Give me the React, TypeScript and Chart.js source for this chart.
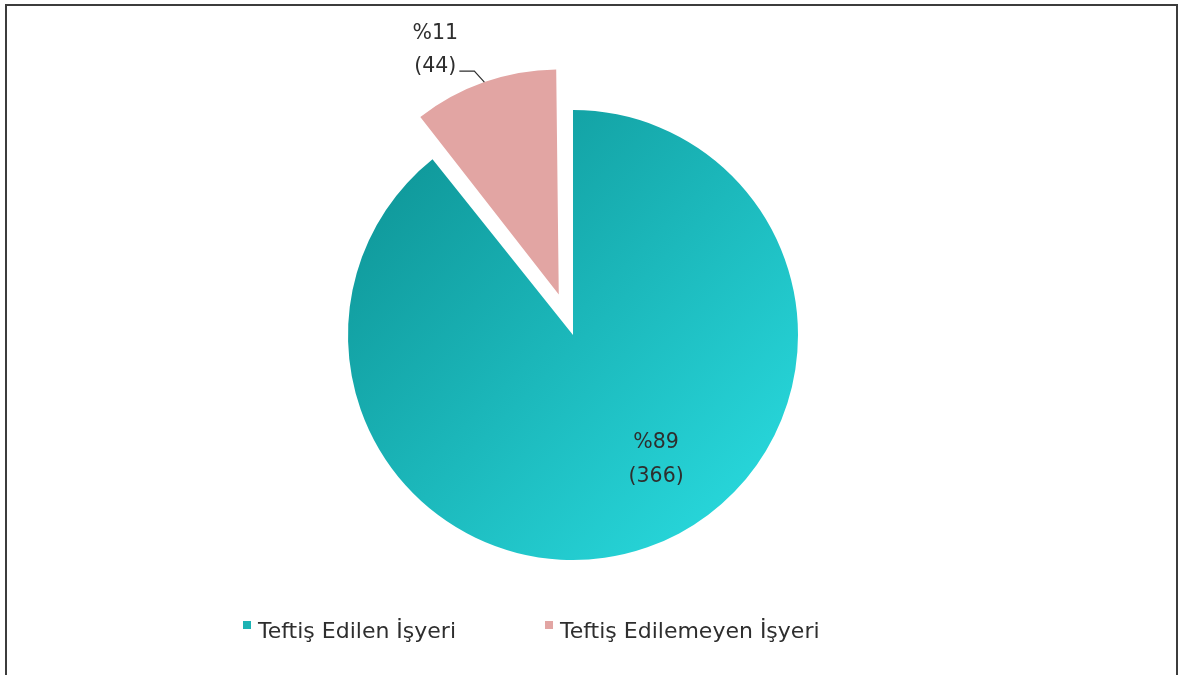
import React, { useEffect, useRef } from "react";
import { Chart, registerables } from "chart.js";

Chart.register(...registerables);

const categories = ["Teftiş Edilen İşyeri", "Teftiş Edilemeyen İşyeri"];
const counts = [366, 44];
const percents = [89, 11];
const explodeOffsets = [0, 43];

const FONT = "'DejaVu Sans', 'Open Sans', sans-serif";
const TEXT = "#2e2e2e";
const PINK = "#e2a5a3";
const TEAL_DARK = "#0f9799";
const TEAL_LIGHT = "#28d8dc";
const TEAL_MARK = "#1cb3b4";
const PIE_RADIUS = 225;

export default function App() {
  const ref = useRef<HTMLCanvasElement>(null);

  useEffect(() => {
    const canvas = ref.current!;

    // Chart.js translates an arc by offset/4 and grows its radius by a fraction of that;
    // keep exploded slices at the same radius as the others.
    const radiusFix = {
      id: "radiusFix",
      beforeDatasetsDraw(chart: any) {
        const meta = chart.getDatasetMeta(0);
        const R = meta.controller.outerRadius;
        meta.data.forEach((arc: any) => {
          const off = (arc.options.offset || 0) / 4;
          const circ = arc.circumference;
          const fix = 1 - Math.sin(Math.min(Math.PI, circ || 0));
          arc.outerRadius = R - off * fix;
        });
      },
    };

    const labelPlugin = {
      id: "sliceLabels",
      afterDatasetsDraw(chart: any) {
        const ctx = chart.ctx;
        const meta = chart.getDatasetMeta(0);
        const R = meta.controller.outerRadius;
        ctx.save();
        ctx.fillStyle = TEXT;
        ctx.font = `20.5px ${FONT}`;
        ctx.textAlign = "center";
        ctx.textBaseline = "middle";
        meta.data.forEach((arc: any, i: number) => {
          const p = arc.getProps(["x", "y", "startAngle", "endAngle"], true);
          const off = (arc.options.offset || 0) / 4;
          const mid = (p.startAngle + p.endAngle) / 2;
          const l1 = "%" + percents[i];
          const l2 = "(" + counts[i] + ")";
          if (off === 0) {
            const a = mid - 0.257;
            const d = R * 0.66;
            const cx = p.x + Math.cos(a) * d;
            const cy = p.y + Math.sin(a) * d;
            ctx.fillText(l1, cx, cy - 15);
            ctx.fillText(l2, cx, cy + 19);
          } else {
            const ox = p.x + Math.cos(mid) * (R + off);
            const oy = p.y + Math.sin(mid) * (R + off);
            const kx = ox - 10;
            const ky = oy - 11;
            const ex = kx - 15;
            ctx.strokeStyle = TEXT;
            ctx.lineWidth = 1.2;
            ctx.beginPath();
            ctx.moveTo(ox, oy);
            ctx.lineTo(kx, ky);
            ctx.lineTo(ex, ky);
            ctx.stroke();
            const w = ctx.measureText(l2).width;
            const cx = ex - 3 - w / 2;
            ctx.fillText(l2, cx, ky - 4);
            ctx.fillText(l1, cx, ky - 37);
          }
        });
        ctx.restore();
      },
    };

    const legendPlugin = {
      id: "customLegend",
      afterDraw(chart: any) {
        const ctx = chart.ctx;
        const ds = chart.data.datasets[0];
        ctx.save();
        ctx.font = `22px ${FONT}`;
        ctx.textBaseline = "middle";
        ctx.textAlign = "left";
        let x = 243;
        const y = 632;
        chart.data.labels.forEach((lab: string, i: number) => {
          ctx.fillStyle = ds.legendColors[i];
          ctx.fillRect(x, y - 11, 8, 8);
          ctx.fillStyle = TEXT;
          ctx.fillText(lab, x + 15, y);
          x += 15 + ctx.measureText(lab).width + 89;
        });
        ctx.restore();
      },
    };

    const chart = new Chart(canvas, {
      type: "pie",
      data: {
        labels: categories,
        datasets: [
          {
            data: counts,
            legendColors: [TEAL_MARK, PINK],
            backgroundColor: (c: any) => {
              if (c.dataIndex === 1) return PINK;
              const ch = c.chart;
              const area = ch.chartArea;
              if (!area) return TEAL_MARK;
              const cx = (area.left + area.right) / 2;
              const cy = (area.top + area.bottom) / 2;
              const g = ch.ctx.createLinearGradient(
                cx - PIE_RADIUS * 0.8,
                cy - PIE_RADIUS * 0.8,
                cx + PIE_RADIUS * 0.8,
                cy + PIE_RADIUS * 0.8
              );
              g.addColorStop(0, TEAL_DARK);
              g.addColorStop(1, TEAL_LIGHT);
              return g;
            },
            borderWidth: 0,
            offset: explodeOffsets.map((v) => v * 4),
          } as any,
        ],
      },
      options: {
        responsive: false,
        maintainAspectRatio: false,
        animation: false,
        radius: PIE_RADIUS,
        layout: { padding: { left: 0, right: 34, top: 0, bottom: 5 } },
        plugins: {
          legend: { display: false },
          tooltip: { enabled: false },
        },
      } as any,
      plugins: [radiusFix, labelPlugin, legendPlugin],
    });

    return () => chart.destroy();
  }, []);

  return (
    <div
      style={{
        position: "fixed",
        left: 0,
        top: 0,
        width: 1180,
        height: 675,
        background: "#ffffff",
        overflow: "hidden",
      }}
    >
      <canvas
        ref={ref}
        width={1180}
        height={675}
        style={{ position: "absolute", left: 0, top: 0, width: 1180, height: 675 }}
      />
      <div
        style={{
          position: "absolute",
          left: 5,
          top: 4,
          width: 1173,
          height: 720,
          boxSizing: "border-box",
          border: "2px solid #3c3c3c",
          pointerEvents: "none",
        }}
      />
    </div>
  );
}
